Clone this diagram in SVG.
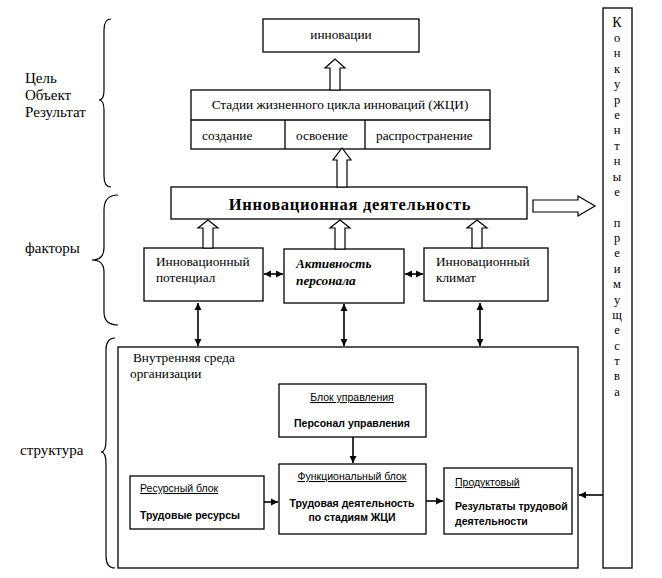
<svg xmlns="http://www.w3.org/2000/svg" width="662" height="578" viewBox="0 0 662 578">
<style>
.box{fill:#fff;stroke:#000;stroke-width:1.3}
.hol{fill:#fff;stroke:#000;stroke-width:1.2}
.s{font-family:"Liberation Serif","DejaVu Serif",serif;font-size:13.3px;fill:#000}
.lab{font-family:"Liberation Serif","DejaVu Serif",serif;font-size:15px;fill:#000}
.c{font-family:"Liberation Sans",sans-serif;font-size:10.5px;fill:#000}
.cb{font-family:"Liberation Sans",sans-serif;font-size:10.5px;font-weight:bold;fill:#000}
.u{text-decoration:underline}
.ln{stroke:#000;stroke-width:1.6;fill:none}
.br{stroke:#000;stroke-width:1.2;fill:none}
.v{font-family:"Liberation Serif","DejaVu Serif",serif;font-size:12.5px;fill:#000;text-anchor:middle}
</style>
<defs>
<marker id="ah" viewBox="0 0 10 10" refX="10" refY="5" markerWidth="4.5" markerHeight="4.5" orient="auto-start-reverse" markerUnits="strokeWidth"><path d="M0,0 L10,5 L0,10 z" fill="#000"/></marker>
</defs>

<g id="braces">
<path class="br" d="M111,19 Q104,19 104,30 L104,90 Q104,100 99,100 Q104,100 104,110 L104,176 Q104,187 111,187"/>
<path class="br" d="M118,195 Q104,195 104,210 L104,248 Q104,260 92,260 Q104,260 104,272 L104,312 Q104,325 118,325"/>
<path class="br" d="M115,338 Q106,338 106,350 L106,440 Q106,452 101,452 Q106,452 106,464 L106,556 Q106,568 115,568"/>
</g>

<g id="labels">
<text class="lab" x="25" y="83">Цель</text>
<text class="lab" x="25" y="100">Объект</text>
<text class="lab" x="25" y="117">Результат</text>
<text class="lab" x="25" y="253">факторы</text>
<text class="lab" x="20" y="455">структура</text>
</g>

<g id="innovacii">
<rect class="box" x="263" y="19" width="156" height="33"/>
<text class="s" x="341" y="39" text-anchor="middle">инновации</text>
</g>

<g id="zhci">
<rect class="box" x="191" y="90" width="299" height="59"/>
<line class="box" x1="191" y1="120" x2="490" y2="120"/>
<line class="box" x1="285" y1="120" x2="285" y2="149"/>
<line class="box" x1="365" y1="120" x2="365" y2="149"/>
<text class="s" x="340" y="109" text-anchor="middle">Стадии жизненного цикла инноваций (ЖЦИ)</text>
<text class="s" x="202" y="140">создание</text>
<text class="s" x="296" y="140">освоение</text>
<text class="s" x="376" y="140">распространение</text>
</g>

<g id="deyatelnost">
<rect class="box" x="171" y="187" width="356" height="32"/>
<text x="350" y="210" text-anchor="middle" style="font-family:'Liberation Serif','DejaVu Serif',serif;font-size:16.5px;font-weight:bold;letter-spacing:0.7px">Инновационная деятельность</text>
</g>

<g id="potencial">
<rect class="box" x="144" y="248" width="119" height="53"/>
<text class="s" x="156" y="266">Инновационный</text>
<text class="s" x="156" y="282">потенциал</text>
</g>

<g id="aktivnost">
<rect class="box" x="284" y="249" width="120" height="54"/>
<text class="s" x="296" y="268" style="font-weight:bold;font-style:italic">Активность</text>
<text class="s" x="296" y="285" style="font-weight:bold;font-style:italic">персонала</text>
</g>

<g id="klimat">
<rect class="box" x="424" y="248" width="124" height="53"/>
<text class="s" x="436" y="266">Инновационный</text>
<text class="s" x="436" y="282">климат</text>
</g>

<g id="konkurent">
<rect class="box" x="603" y="8" width="29" height="560"/>
<text class="v" x="617" y="27" style="font-size:14px">К</text>
<text class="v" x="617" y="42">о</text>
<text class="v" x="617" y="57">н</text>
<text class="v" x="617" y="73">к</text>
<text class="v" x="617" y="88">у</text>
<text class="v" x="617" y="104">р</text>
<text class="v" x="617" y="119">е</text>
<text class="v" x="617" y="134">н</text>
<text class="v" x="617" y="150">т</text>
<text class="v" x="617" y="165">н</text>
<text class="v" x="617" y="181">ы</text>
<text class="v" x="617" y="196">е</text>
<text class="v" x="617" y="227">п</text>
<text class="v" x="617" y="242">р</text>
<text class="v" x="617" y="257">е</text>
<text class="v" x="617" y="273">и</text>
<text class="v" x="617" y="288">м</text>
<text class="v" x="617" y="304">у</text>
<text class="v" x="617" y="319">щ</text>
<text class="v" x="617" y="334">е</text>
<text class="v" x="617" y="350">с</text>
<text class="v" x="617" y="365">т</text>
<text class="v" x="617" y="380">в</text>
<text class="v" x="617" y="396">а</text>
</g>

<g id="sreda">
<rect class="box" x="118" y="347" width="460" height="221"/>
<text class="s" x="133" y="362">Внутренняя среда</text>
<text class="s" x="130" y="378">организации</text>
</g>

<g id="upravlenie">
<rect class="box" x="279" y="384" width="147" height="53"/>
<text class="c u" x="352" y="401" text-anchor="middle">Блок управления</text>
<text class="cb" x="352" y="427" text-anchor="middle">Персонал управления</text>
</g>

<g id="funkc">
<rect class="box" x="279" y="464" width="147" height="70"/>
<text class="c u" x="352" y="480" text-anchor="middle">Функциональный блок</text>
<text class="cb" x="352" y="507" text-anchor="middle">Трудовая деятельность</text>
<text class="cb" x="352" y="521" text-anchor="middle">по стадиям ЖЦИ</text>
</g>

<g id="resurs">
<rect class="box" x="130" y="476" width="134" height="53"/>
<text class="c u" x="140" y="492">Ресурсный блок</text>
<text class="cb" x="140" y="519">Трудовые ресурсы</text>
</g>

<g id="produkt">
<rect class="box" x="444" y="468" width="128" height="66"/>
<text class="c u" x="455" y="486">Продуктовый</text>
<text class="cb" x="455" y="510">Результаты трудовой</text>
<text class="cb" x="455" y="525">деятельности</text>
</g>

<g id="connectors">
<path class="hol" d="M330,90 L330,68 L325,68 L335,59 L345,68 L340,68 L340,90 Z"/>
<path class="hol" d="M337,187 L337,160 L333,160 L342,148 L351,160 L347,160 L347,187 Z"/>
<path class="hol" d="M203,248 L203,228 L198,228 L208,220 L218,228 L213,228 L213,248 Z"/>
<path class="hol" d="M335,249 L335,228 L330,228 L340,220 L350,228 L345,228 L345,249 Z"/>
<path class="hol" d="M472,248 L472,228 L467,228 L477,220 L487,228 L482,228 L482,248 Z"/>
<path class="hol" d="M533,200 L578,200 L578,196 L595,206 L578,216 L578,212 L533,212 Z"/>
<line class="ln" x1="264" y1="274" x2="283" y2="274" marker-start="url(#ah)" marker-end="url(#ah)"/>
<line class="ln" x1="405" y1="274" x2="423" y2="274" marker-start="url(#ah)" marker-end="url(#ah)"/>
<line class="ln" x1="198" y1="303" x2="198" y2="346" marker-start="url(#ah)" marker-end="url(#ah)"/>
<line class="ln" x1="344" y1="304" x2="344" y2="346" marker-start="url(#ah)" marker-end="url(#ah)"/>
<line class="ln" x1="480" y1="303" x2="480" y2="346" marker-start="url(#ah)" marker-end="url(#ah)"/>
<line class="ln" x1="353" y1="437" x2="353" y2="463" marker-end="url(#ah)"/>
<line class="ln" x1="264" y1="502" x2="278" y2="502" marker-end="url(#ah)"/>
<line class="ln" x1="426" y1="501" x2="443" y2="501" marker-end="url(#ah)"/>
<line class="ln" x1="603" y1="495" x2="579" y2="495" marker-end="url(#ah)"/>
</g>
</svg>
